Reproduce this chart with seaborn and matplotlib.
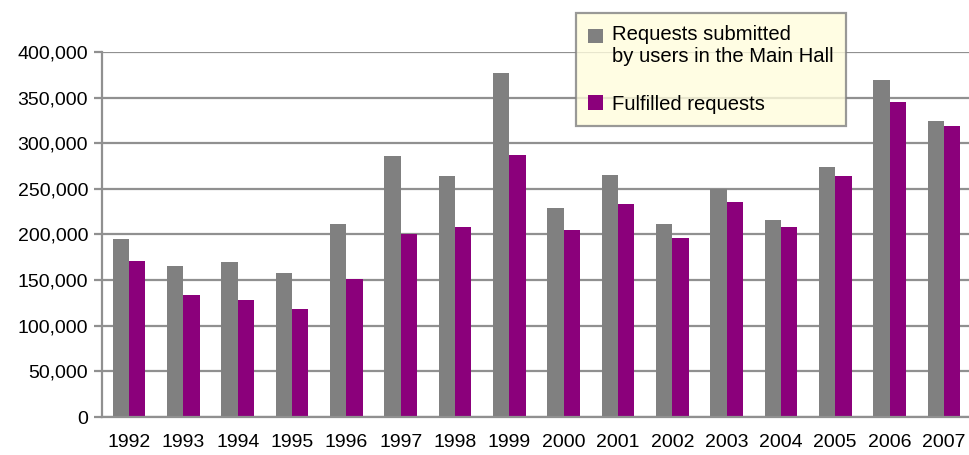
import matplotlib
matplotlib.use("Agg")
import matplotlib.pyplot as plt
import matplotlib.ticker as mticker
from matplotlib.patches import Patch, Rectangle
from matplotlib.legend_handler import HandlerPatch
import seaborn as sns
import pandas as pd

# Values
years = ["1992", "1993", "1994", "1995", "1996", "1997", "1998", "1999",
         "2000", "2001", "2002", "2003", "2004", "2005", "2006", "2007"]
submitted = [195000, 165500, 170000, 158000, 211500, 286000, 264000, 377000,
             229000, 265000, 211500, 250000, 216000, 274000, 369000, 324000]
fulfilled = [171000, 133700, 128000, 118000, 151000, 200500, 208000, 287000,
             205000, 233500, 196000, 235600, 208000, 264000, 345000, 319000]
series_names = ["Requests submitted\nby users in the Main Hall", "Fulfilled requests"]
series_colors = ["#808080", "#8B007B"]

df = pd.DataFrame({
    "Year": years * 2,
    "Requests": submitted + fulfilled,
    "Series": [series_names[0]] * len(years) + [series_names[1]] * len(years),
})

sns.set_style("white")
plt.rcParams["font.family"] = ["Liberation Sans", "DejaVu Sans"]
plt.rcParams["text.color"] = "black"
plt.rcParams["xtick.color"] = "black"
plt.rcParams["ytick.color"] = "black"

fig = plt.figure(figsize=(9.69, 4.55), dpi=100)
ax = fig.add_axes([102 / 969, 1 - 417 / 455, 869 / 969, 365 / 455])

sns.barplot(data=df, x="Year", y="Requests", hue="Series", order=years,
            hue_order=series_names, palette=series_colors, width=0.6,
            saturation=1, linewidth=0, legend=False, ax=ax)

ax.set_ylim(0, 400000)
ax.set_xlim(-0.5, len(years) - 0.5)
ax.yaxis.set_major_locator(mticker.MultipleLocator(50000))
ax.yaxis.set_major_formatter(mticker.FuncFormatter(lambda v, p: f"{int(v):,}"))
ax.set_xlabel("")
ax.set_ylabel("")

# horizontal gridlines
ax.yaxis.grid(True, color="#909090", linewidth=1.6)
ax.set_axisbelow(True)

for side in ["top", "right"]:
    ax.spines[side].set_visible(False)
for side in ["left", "bottom"]:
    ax.spines[side].set_color("#909090")
    ax.spines[side].set_linewidth(1.6)

# tick marks between categories on x, outward on y
ax.set_xticks([i - 0.5 for i in range(len(years) + 1)], minor=True)
ax.tick_params(axis="x", which="major", length=0, pad=12, labelsize=14,
               labelcolor="black")
ax.tick_params(axis="x", which="minor", length=6, width=1.6, color="#909090",
               direction="out")
ax.tick_params(axis="y", which="major", length=6, width=1.6, color="#909090",
               direction="out", left=True, labelsize=14, pad=4,
               labelcolor="black")


def top_square(legend, orig_handle, xdescent, ydescent, width, height, fontsize):
    # move the square of a two-line entry up to its first line
    shift = 0.5 * fontsize if orig_handle.get_label() == "two" else 0
    return Rectangle((-xdescent, -ydescent + shift), width, height)


handles = [Patch(facecolor=series_colors[0], edgecolor="none", label="two"),
           Patch(facecolor=series_colors[1], edgecolor="none", label="one")]
leg = fig.legend(handles, series_names, loc="upper left",
                 bbox_to_anchor=(576 / 969, 1 - 13 / 455),
                 frameon=True, fancybox=False, fontsize=14.6,
                 handlelength=0.75, handleheight=0.75, handletextpad=0.45,
                 labelspacing=1.4, borderpad=0.6, borderaxespad=0,
                 handler_map={Patch: HandlerPatch(patch_func=top_square)})
leg.get_frame().set_facecolor("#FFFDDD")
leg.get_frame().set_edgecolor("#808080")
leg.get_frame().set_linewidth(1.6)

fig.savefig("out.png", dpi=100)
